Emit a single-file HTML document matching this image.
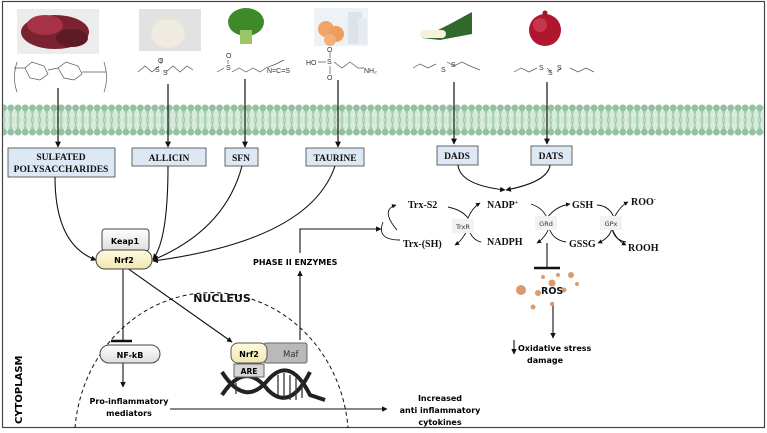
<!DOCTYPE html>
<html><head><meta charset="utf-8"><style>
html,body{margin:0;padding:0;background:#fff}
svg{display:block}
.t{font-family:"Liberation Serif",serif;font-weight:bold}
.s{font-family:"DejaVu Sans","Liberation Sans",sans-serif;font-weight:bold}
</style></head><body>
<svg width="767" height="433" viewBox="0 0 767 433" xmlns="http://www.w3.org/2000/svg">
<defs>
<marker id="a" viewBox="0 0 10 10" refX="9" refY="5" markerWidth="5" markerHeight="5" orient="auto"><path d="M0,0L10,5L0,10z" fill="#111"/></marker>
<pattern id="mem" x="0" y="103" width="7.2" height="34" patternUnits="userSpaceOnUse">
<rect x="0" y="8" width="7.2" height="18" fill="#d7eadc"/>
<circle cx="3.6" cy="5" r="3.5" fill="#94c2a1"/>
<circle cx="3.6" cy="29" r="3.5" fill="#94c2a1"/>
<path d="M2.6,8 L4.8,17 L2.6,26 M4.6,8 L2.4,17 L4.6,26" stroke="#9cc8a8" stroke-width="1" fill="none"/>
</pattern>
<linearGradient id="y" x1="0" y1="0" x2="0" y2="1"><stop offset="0" stop-color="#fffbe0"/><stop offset="1" stop-color="#f0e7b0"/></linearGradient>
<linearGradient id="g" x1="0" y1="0" x2="0" y2="1"><stop offset="0" stop-color="#fff"/><stop offset="1" stop-color="#ddd"/></linearGradient>
</defs>
<rect x="2.5" y="1.5" width="762" height="426" fill="#fff" stroke="#444" stroke-width="1.2"/>
<rect x="3" y="103" width="761" height="34" fill="url(#mem)"/>

<rect x="17" y="9" width="82" height="45" fill="#ececec"/>
<ellipse cx="55" cy="32" rx="34" ry="17" fill="#7a2230"/>
<ellipse cx="45" cy="25" rx="18" ry="10" fill="#a53345"/>
<ellipse cx="72" cy="38" rx="16" ry="9" fill="#5e1a25"/>
<rect x="139" y="9" width="62" height="42" fill="#e2e2e2"/>
<ellipse cx="168" cy="33" rx="17" ry="15" fill="#f0ebe0"/>
<path d="M164,20 L168,10 L172,20z" fill="#e8e0d0"/>
<ellipse cx="246" cy="22" rx="18" ry="14" fill="#3e8a2a"/>
<rect x="240" y="30" width="12" height="14" fill="#9cc56a"/>
<rect x="314" y="8" width="54" height="38" fill="#eef1f5"/>
<circle cx="326" cy="29" r="8" fill="#f0a468"/><circle cx="336" cy="34" r="8" fill="#ee9d5f"/><circle cx="330" cy="40" r="6" fill="#f3b07a"/>
<rect x="348" y="12" width="14" height="32" fill="#dde3ea"/><rect x="358" y="18" width="9" height="26" fill="#e6ebf0"/>
<path d="M422,38 L450,24 L472,12 L472,34 L440,40 Z" fill="#2f6a2c"/>
<rect x="420" y="30" width="26" height="8" rx="4" fill="#f4f1dc"/>
<circle cx="545" cy="30" r="16" fill="#b0172f"/><circle cx="540" cy="25" r="7" fill="#d44b60" opacity=".6"/>
<circle cx="545" cy="13" r="2.5" fill="#9a1a2a"/>

<g stroke="#555" stroke-width="0.7" fill="none">
<path d="M17,62 Q12,78 17,92 M104,62 Q109,78 104,92"/>
<path d="M14,68 L25,68 L32,62 L44,66 L48,74 L40,80 L30,78 L25,68 M48,70 L58,68 L66,62 L78,66 L82,74 L74,80 L64,78 L58,68 M82,72 L106,72"/>
<path d="M138,72 L145,66 L152,72 L159,66 M161,64 L161,58 M166,72 L173,66 L180,72 L187,66 L193,70"/>
<path d="M217,72 L224,68 M228,60 L228,64 M232,72 L239,68 L246,72 L253,68 L260,72 L266,68 L276,64 L284,60"/>
<path d="M318,62 L326,62 M330,52 L330,58 M330,66 L330,74 M334,62 L342,68 L350,62 L358,68 L364,68"/>
<path d="M413,68 L420,64 L428,68 L436,64 M447,62 L454,66 L462,62 L470,66 L480,70"/>
<path d="M514,72 L521,68 L529,72 L537,68 M547,68 L551,72 M557,72 L561,68 M570,68 L578,72 L586,68 L594,72"/>
</g>
<g font-family="Liberation Sans,sans-serif" font-size="7" fill="#333">
<text x="158" y="63">O</text><text x="155" y="72">S</text><text x="163" y="75">S</text>
<text x="226" y="58">O</text><text x="226" y="70">S</text><text x="267" y="73">N=C=S</text>
<text x="306" y="65">HO</text><text x="327" y="64">S</text><text x="327" y="52">O</text><text x="327" y="80">O</text><text x="364" y="73">NH₂</text>
<text x="441" y="72">S</text><text x="451" y="67">S</text>
<text x="539" y="70">S</text><text x="548" y="75">S</text><text x="557" y="70">S</text>
</g>

<g stroke="#111" stroke-width="1.2" marker-end="url(#a)">
<line x1="58" y1="88" x2="58" y2="147"/>
<line x1="168" y1="84" x2="168" y2="147"/>
<line x1="245" y1="79" x2="245" y2="147"/>
<line x1="338" y1="80" x2="338" y2="147"/>
<line x1="454" y1="82" x2="454" y2="144"/>
<line x1="547" y1="82" x2="547" y2="144"/>
</g>

<g fill="#dce8f3" stroke="#555" stroke-width="0.9">
<rect x="8" y="148" width="107" height="29"/>
<rect x="132" y="148" width="74" height="18"/>
<rect x="225" y="148" width="33" height="18"/>
<rect x="306" y="148" width="58" height="18"/>
<rect x="437" y="146" width="41" height="19"/>
<rect x="531" y="146" width="41" height="19"/>
</g>
<g class="t" font-size="9.5" fill="#111" text-anchor="middle">
<text x="61" y="160">SULFATED</text><text x="61" y="172">POLYSACCHARIDES</text>
<text x="169" y="161">ALLICIN</text><text x="241" y="161">SFN</text><text x="335" y="161">TAURINE</text>
<text x="457" y="159">DADS</text><text x="551" y="159">DATS</text>
</g>

<g stroke="#111" stroke-width="1.1" fill="none" marker-end="url(#a)">
<path d="M55,177 Q55,245 96,260"/>
<path d="M168,166 Q168,240 153,259"/>
<path d="M242,166 Q225,230 153,260"/>
<path d="M335,166 Q310,240 153,261"/>
<path d="M458,165 Q460,185 505,190"/>
<path d="M550,165 Q548,182 506,190"/>
<line x1="127" y1="268" x2="232" y2="342"/>
<line x1="300" y1="340" x2="300" y2="271"/>
<polyline points="300,253 300,229 381,229"/>
<line x1="170" y1="409" x2="387" y2="409"/>
<line x1="123" y1="363" x2="123" y2="387"/>
<line x1="553" y1="302" x2="553" y2="338"/>
<line x1="514" y1="340" x2="514" y2="354"/>
</g>
<line x1="123" y1="268" x2="123" y2="341" stroke="#111" stroke-width="1.1"/>
<line x1="111" y1="341" x2="132" y2="341" stroke="#111" stroke-width="2.5"/>

<path d="M75,428 A137,148 0 0 1 348,428" fill="none" stroke="#111" stroke-width="1" stroke-dasharray="4,3"/>
<text x="222" y="302" class="s" font-size="11" text-anchor="middle" fill="#111">NUCLEUS</text>

<rect x="102" y="229" width="47" height="22" rx="3" fill="url(#g)" stroke="#444"/>
<text x="125" y="244" class="s" font-size="8" text-anchor="middle">Keap1</text>
<rect x="96" y="250" width="56" height="19" rx="9" fill="url(#y)" stroke="#444"/>
<text x="124" y="263" class="s" font-size="8" text-anchor="middle">Nrf2</text>
<rect x="100" y="345" width="60" height="18" rx="9" fill="url(#g)" stroke="#444"/>
<text x="130" y="358" class="s" font-size="8" text-anchor="middle">NF-kB</text>
<text x="129" y="404" class="s" font-size="8" text-anchor="middle">Pro-inflammatory</text>
<text x="129" y="416" class="s" font-size="8" text-anchor="middle">mediators</text>
<text x="253" y="265" class="s" font-size="8">PHASE II ENZYMES</text>

<g stroke="#222" stroke-width="4" fill="none">
<path d="M222,372 Q245,408 268,380 Q290,355 310,395 L325,400"/>
<path d="M222,395 Q245,360 268,390 Q290,412 310,372"/>
</g>
<g stroke="#333" stroke-width="1.3">
<line x1="236" y1="383" x2="236" y2="394"/><line x1="278" y1="375" x2="278" y2="395"/><line x1="284" y1="373" x2="284" y2="398"/><line x1="290" y1="375" x2="290" y2="400"/><line x1="296" y1="378" x2="296" y2="400"/><line x1="302" y1="380" x2="302" y2="398"/>
</g>
<rect x="264" y="343" width="43" height="20" rx="2" fill="#b9b9b9" stroke="#666"/>
<text x="283" y="357" font-family="DejaVu Sans,sans-serif" font-size="8.5" fill="#333">Maf</text>
<rect x="231" y="343" width="36" height="20" rx="7" fill="url(#y)" stroke="#555"/>
<text x="249" y="357" class="s" font-size="8" text-anchor="middle">Nrf2</text>
<rect x="234" y="364" width="30" height="13" fill="#d6d6d6" stroke="#666"/>
<text x="249" y="374" class="s" font-size="7.5" text-anchor="middle">ARE</text>

<text x="440" y="401" class="s" font-size="8" text-anchor="middle">Increased</text>
<text x="440" y="413" class="s" font-size="8" text-anchor="middle">anti inflammatory</text>
<text x="440" y="425" class="s" font-size="8" text-anchor="middle">cytokines</text>
<text transform="translate(22,424) rotate(-90)" class="s" font-size="10">CYTOPLASM</text>

<g stroke="#111" stroke-width="0.9" fill="none" marker-end="url(#a)">
<path d="M397,230 Q380,210 396,205"/>
<path d="M400,240 Q376,240 383,222" marker-end="none"/>
<path d="M448,207 Q462,210 468,218 Q472,208 480,203"/>
<path d="M481,242 Q472,240 468,228 Q463,240 455,245"/>
<path d="M531,204 Q543,208 547,218 Q556,206 570,204"/>
<path d="M566,242 Q553,240 549,228 Q545,238 537,243"/>
<path d="M597,205 Q610,206 614,218 Q620,206 628,202"/>
<path d="M626,242 Q614,240 612,228 Q610,238 598,243"/>
<path d="M612,228 Q616,240 626,245"/>
</g>
<line x1="547" y1="243" x2="547" y2="267" stroke="#111" stroke-width="1.1"/>
<line x1="534" y1="268" x2="560" y2="268" stroke="#111" stroke-width="2.5"/>
<g fill="#f2f2f2"><rect x="452" y="219" width="22" height="14"/><rect x="535" y="216" width="22" height="14"/><rect x="600" y="216" width="22" height="14"/></g>
<g font-family="DejaVu Sans,sans-serif" font-size="6.5" fill="#333" text-anchor="middle">
<text x="463" y="229">TrxR</text><text x="546" y="226">GRd</text><text x="611" y="226">GPx</text></g>
<g class="t" font-size="10" fill="#111">
<text x="408" y="208">Trx-S2</text><text x="403" y="247">Trx-(SH)</text>
<text x="487" y="208">NADP<tspan font-size="6" dy="-4">+</tspan></text>
<text x="487" y="245">NADPH</text>
<text x="572" y="208">GSH</text><text x="569" y="247">GSSG</text>
<text x="631" y="205">ROO<tspan font-size="6" dy="-4">-</tspan></text>
<text x="628" y="251">ROOH</text>
</g>
<g fill="#dc9a6c">
<circle cx="521" cy="290" r="5"/><circle cx="543" cy="277" r="2"/><circle cx="558" cy="275" r="2"/><circle cx="571" cy="275" r="3"/><circle cx="552" cy="283" r="3.5"/><circle cx="538" cy="293" r="3"/><circle cx="564" cy="290" r="2.5"/><circle cx="577" cy="284" r="2"/><circle cx="533" cy="307" r="2.5"/><circle cx="552" cy="304" r="2"/>
</g>
<text x="541" y="294" class="s" font-size="9.5" fill="#111">ROS</text>
<text x="518" y="351" class="s" font-size="8">Oxidative stress</text>
<text x="545" y="363" class="s" font-size="8" text-anchor="middle">damage</text>
</svg>
</body></html>
